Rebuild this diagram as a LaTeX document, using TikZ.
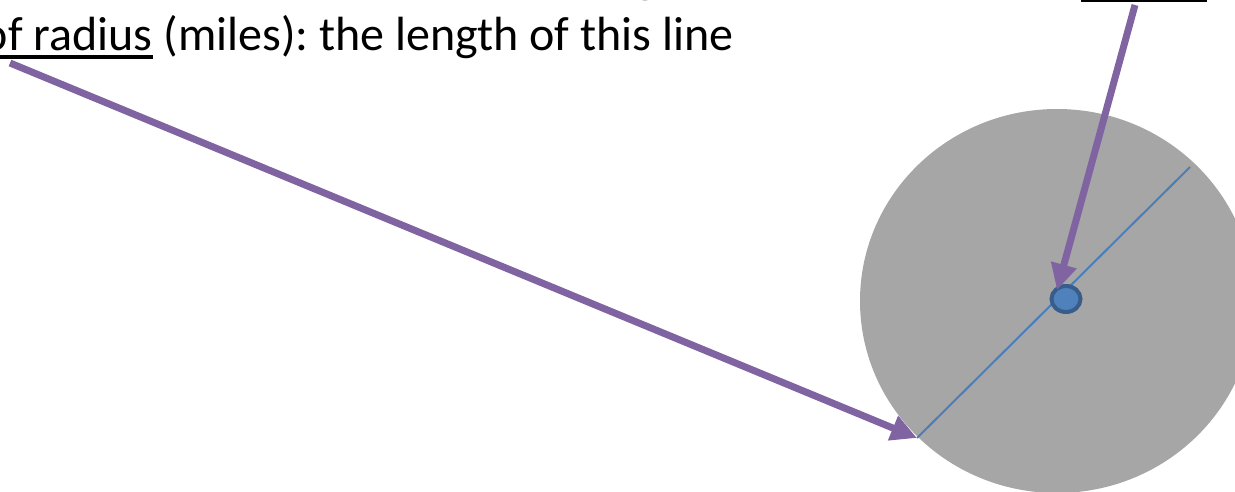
\documentclass[tikz,border=0pt]{standalone}
\usepackage{fontspec}
\setmainfont{Carlito}
\usetikzlibrary{arrows.meta,shapes.geometric}
\definecolor{purp}{HTML}{8064A2}
\definecolor{discgray}{HTML}{A6A6A6}
\definecolor{blu}{HTML}{4A7EBB}
\definecolor{dotfill}{HTML}{4F81BD}
\definecolor{dotline}{HTML}{385D8A}
\frenchspacing
\begin{document}
\begin{tikzpicture}[x=1pt,y=-1pt,
  arr/.style={draw=purp, line width=7pt, -{Triangle[length=26pt,width=25pt]}},
  txt/.style={inner sep=0pt, outer sep=0pt, anchor=base west, font=\fontsize{48}{58}\selectfont},
  dotnode/.style={ellipse, draw=dotline, fill=dotfill, line width=4pt, minimum width=29pt, minimum height=26pt, inner sep=0pt}]
\useasboundingbox (0,0) rectangle (1235,492);
\clip (0,0) rectangle (1235,492);
% disc
\fill[discgray] (1057,301) ellipse [x radius=197pt, y radius=192pt];
% diameter line
\coordinate (rim) at (917,438);
\coordinate (rimB) at (1190,167);
\draw[blu, line width=2pt] (rim) -- (rimB);
% centre dot
\node[dotnode] (dot) at (1066,299) {};
% text lines
\node[txt] (prev) at (634,-7) {g};
\draw[line width=4pt] (1081,0) -- (1207,0);
\node[txt] (t1) at (-17,51) {of radius};
\node[txt] (t2) at (t1.base east) {\ (miles): the length of this line};
\draw[line width=3.5pt] ([yshift=-6pt]t1.base west) -- ([yshift=-6pt]t1.base east);
% arrows
\coordinate (s1) at (10,63);
\coordinate (s2) at (1135,5);
\coordinate (tip2) at (1057,290);
\draw[arr] (s1) -- (rim);
\draw[arr] (s2) -- (tip2);
\end{tikzpicture}
\end{document}
